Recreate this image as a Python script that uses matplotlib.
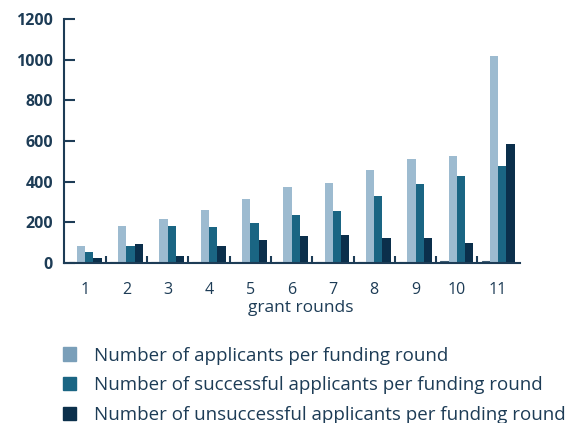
import matplotlib
matplotlib.use("Agg")
import matplotlib.pyplot as plt
import numpy as np
from matplotlib.patches import Patch

rounds = ["1", "2", "3", "4", "5", "6", "7", "8", "9", "10", "11"]
applicants = [82, 180, 218, 260, 315, 374, 393, 457, 511, 526, 1020]
successful = [52, 82, 180, 175, 197, 236, 256, 330, 388, 428, 475]
unsuccessful = [24, 92, 32, 84, 113, 133, 138, 123, 123, 98, 587]
other = [6, 6, 6, 6, 6, 6, 6, 6, 6, 8, 8]
yticks = [0, 200, 400, 600, 800, 1000, 1200]
labels = ["Number of applicants per funding round",
          "Number of successful applicants per funding round",
          "Number of unsuccessful applicants per funding round"]

c_light = "#9dbbd0"
c_leg_light = "#7a9fb9"
c_mid = "#1a6583"
c_dark = "#0b2f4b"
txt = "#1d3c56"

plt.rcParams['font.family'] = ['Open Sans', 'DejaVu Sans']

fig = plt.figure(figsize=(5.82, 4.23), dpi=100)
ax = fig.add_axes([64/582, 1 - 263/423, (520-64)/582, (263-19)/423])

x = np.arange(len(rounds))
w = 0.2
ax.bar(x - 0.3, other, w, color="#c9d9e4", edgecolor="#3e5d74", linewidth=0.8)
ax.bar(x - 0.1, applicants, w, color=c_light)
ax.bar(x + 0.1, successful, w, color=c_mid)
ax.bar(x + 0.3, unsuccessful, w, color=c_dark)

ax.set_xlim(-0.51, 10.53)
ax.set_ylim(0, 1200)
for s in ["top", "right"]:
    ax.spines[s].set_visible(False)
for s in ["left", "bottom"]:
    ax.spines[s].set_color(txt)
    ax.spines[s].set_linewidth(1.5)

ax.set_yticks(yticks)
ax.set_yticklabels([str(v) for v in yticks], fontsize=11.5, fontweight="bold", color=txt)
ax.tick_params(axis="y", direction="in", length=8, width=1.5, color=txt, pad=8)

ax.set_xticks(x)
ax.set_xticklabels(rounds, fontsize=11.5, color=txt)
ax.tick_params(axis="x", which="major", length=0, pad=14)
ax.set_xticks(x[:-1] + 0.5, minor=True)
ax.tick_params(axis="x", which="minor", direction="in", length=5, width=1.5, color=txt)
ax.set_xlabel("grant rounds", fontsize=12.5, color=txt, labelpad=3)
ax.xaxis.set_label_coords(0.52, -0.15)

handles = [Patch(color=c_leg_light), Patch(color=c_mid), Patch(color=c_dark)]
leg = fig.legend(handles, labels, loc="upper left", bbox_to_anchor=(55/582, 1 - 339/423),
                 frameon=False, fontsize=13.5, handlelength=0.7, handleheight=0.7,
                 handletextpad=1.0, labelspacing=0.62, borderaxespad=0)
for t in leg.get_texts():
    t.set_color(txt)

fig.savefig("out.png", dpi=100)
